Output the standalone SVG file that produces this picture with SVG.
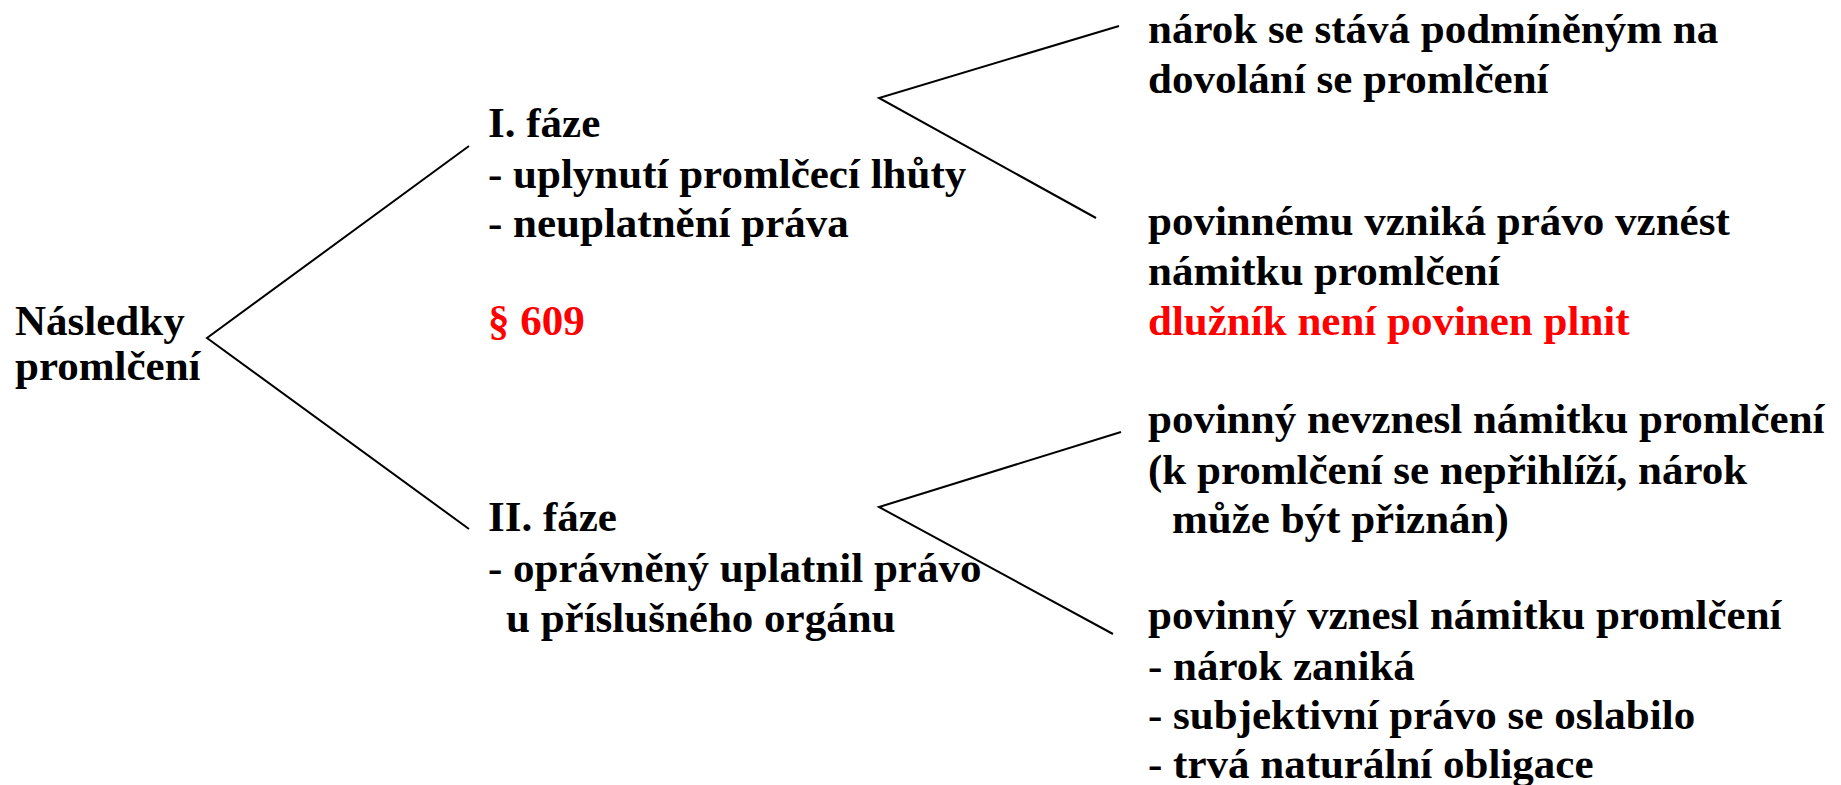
<svg xmlns="http://www.w3.org/2000/svg" width="1841" height="785" viewBox="0 0 1841 785">
<style>
text{font-family:"Liberation Serif","Times New Roman",serif;font-weight:bold;font-size:43px;fill:#000}
.red{fill:#ff0000}
.ln{stroke:#000;stroke-width:2;fill:none}
</style>
<rect width="1841" height="785" fill="#fff"/>
<g id="connectors">
<polyline class="ln" points="469,146 207,338 469,529"/>
<polyline class="ln" points="1119,26 879,98 1096,218"/>
<polyline class="ln" points="1121,432 879,507 1113,634"/>
</g>
<g id="root">
<text x="15" y="335">Následky</text>
<text x="15" y="380">promlčení</text>
</g>
<g id="phase1">
<text x="488" y="137">I. fáze</text>
<text x="488" y="188">- uplynutí promlčecí lhůty</text>
<text x="488" y="237">- neuplatnění práva</text>
<text x="488" y="335" class="red">§ 609</text>
</g>
<g id="phase2">
<text x="488" y="531">II. fáze</text>
<text x="488" y="582">- oprávněný uplatnil právo</text>
<text x="506" y="632">u příslušného orgánu</text>
</g>
<g id="p1a">
<text x="1148" y="43">nárok se stává podmíněným na</text>
<text x="1148" y="93">dovolání se promlčení</text>
</g>
<g id="p1b">
<text x="1148" y="235">povinnému vzniká právo vznést</text>
<text x="1148" y="285">námitku promlčení</text>
<text x="1148" y="335" class="red">dlužník není povinen plnit</text>
</g>
<g id="p2a">
<text x="1148" y="433">povinný nevznesl námitku promlčení</text>
<text x="1148" y="484">(k promlčení se nepřihlíží, nárok</text>
<text x="1172" y="533">může být přiznán)</text>
</g>
<g id="p2b">
<text x="1148" y="629">povinný vznesl námitku promlčení</text>
<text x="1148" y="680">- nárok zaniká</text>
<text x="1148" y="729">- subjektivní právo se oslabilo</text>
<text x="1148" y="778">- trvá naturální obligace</text>
</g>
</svg>
